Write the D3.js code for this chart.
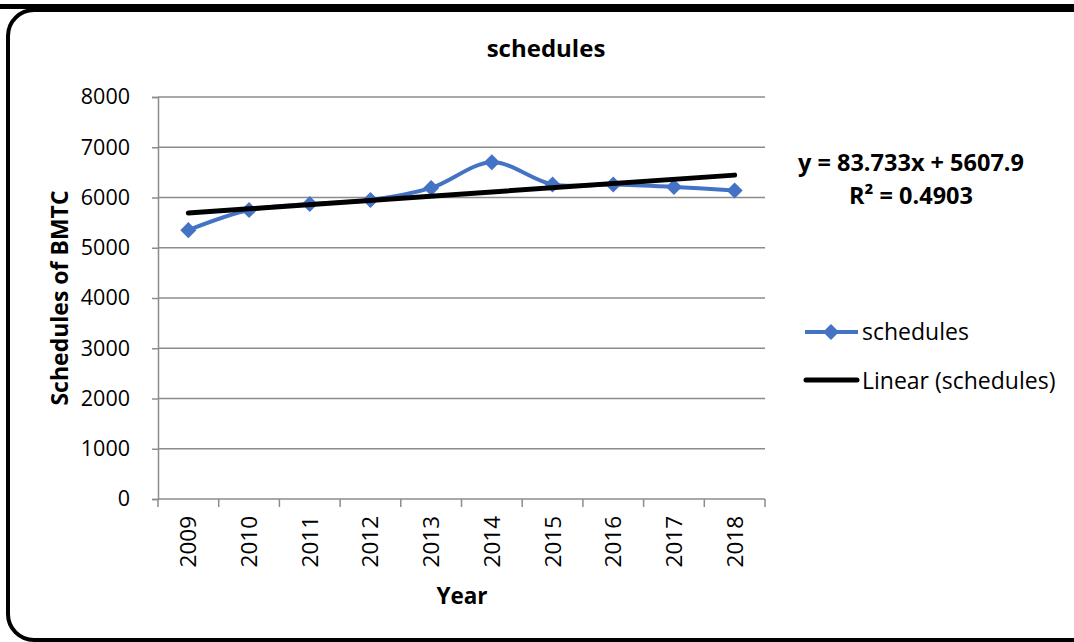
<!DOCTYPE html>
<html>
<head>
<meta charset="utf-8">
<script src="https://cdn.jsdelivr.net/npm/d3@7"></script>
<style>
  html, body { margin: 0; padding: 0; background: #fff; }
  svg { display: block; font-family: "Open Sans", sans-serif; }
</style>
</head>
<body>
<svg id="chart" width="1074" height="642"></svg>
<script>
// Yearly BMTC schedules
const years = ["2009", "2010", "2011", "2012", "2013", "2014", "2015", "2016", "2017", "2018"];
const schedules = [5350, 5750, 5870, 5950, 6190, 6700, 6260, 6260, 6210, 6140];
const yTicks = [0, 1000, 2000, 3000, 4000, 5000, 6000, 7000, 8000];
// Linear trend reported for the series (x = 1..10)
const trendSlope = 83.733;
const trendIntercept = 5607.9;
const trendR2 = 0.4903;

const svg = d3.select("#chart");
const W = 1074, H = 642;
const plot = { left: 158, right: 765, top: 97, bottom: 499 };

// frame
svg.append("rect").attr("x", 0).attr("y", 4).attr("width", W).attr("height", 5).attr("fill", "#000");
svg.append("rect")
  .attr("x", 8).attr("y", 10).attr("width", 1090).attr("height", 630)
  .attr("rx", 26).attr("ry", 26)
  .attr("fill", "#fff").attr("stroke", "#000").attr("stroke-width", 4);

const x = d3.scaleBand().domain(years).range([plot.left, plot.right]).paddingInner(0).paddingOuter(0);
const y = d3.scaleLinear().domain([0, 8000]).range([plot.bottom, plot.top]);
const cx = d => x(d) + x.bandwidth() / 2;

// gridlines
svg.append("g").selectAll("line").data(yTicks.filter(t => t > 0)).join("line")
  .attr("x1", plot.left).attr("x2", plot.right)
  .attr("y1", d => y(d)).attr("y2", d => y(d))
  .attr("stroke", "#8c8c8c").attr("stroke-width", 1.5);

// y axis
const yAxis = svg.append("g").attr("transform", `translate(${plot.left},0)`)
  .call(d3.axisLeft(y).tickValues(yTicks).tickSize(6).tickPadding(22).tickFormat(d3.format("d")));
yAxis.select(".domain").attr("stroke", "#8c8c8c").attr("stroke-width", 1.5);
yAxis.selectAll(".tick line").attr("stroke", "#8c8c8c").attr("stroke-width", 1.5);
yAxis.selectAll(".tick text").attr("font-size", 21.5).attr("fill", "#000")
  .attr("font-family", "'Open Sans', sans-serif");

// x axis: ticks at category boundaries
const xAxisG = svg.append("g").attr("transform", `translate(0,${plot.bottom})`);
xAxisG.append("line").attr("x1", plot.left).attr("x2", plot.right).attr("y1", 0).attr("y2", 0)
  .attr("stroke", "#8c8c8c").attr("stroke-width", 1.5);
const bounds = years.map(d => x(d)).concat([plot.right]);
xAxisG.selectAll("line.tk").data(bounds).join("line").attr("class", "tk")
  .attr("x1", d => d).attr("x2", d => d).attr("y1", 0).attr("y2", 8)
  .attr("stroke", "#8c8c8c").attr("stroke-width", 1.5);
xAxisG.selectAll("text").data(years).join("text")
  .attr("transform", d => `translate(${cx(d) + 8},${17}) rotate(-90)`)
  .attr("text-anchor", "end")
  .attr("font-size", 22.5).attr("fill", "#000")
  .text(d => d);

// series (smoothed)
const color = "#4472C4";
const line = d3.line().x((d, i) => cx(years[i])).y(d => y(d)).curve(d3.curveCatmullRom.alpha(0.5));
svg.append("path").datum(schedules).attr("d", line)
  .attr("fill", "none").attr("stroke", color).attr("stroke-width", 4);
const diamond = d3.symbol().type(d3.symbolDiamond2).size(165);
svg.append("g").selectAll("path").data(schedules).join("path")
  .attr("transform", (d, i) => `translate(${cx(years[i])},${y(d)})`)
  .attr("d", diamond).attr("fill", color);

// linear trend
const trend = years.map((d, i) => trendIntercept + trendSlope * (i + 1));
svg.append("line")
  .attr("x1", cx(years[0])).attr("y1", y(trend[0]))
  .attr("x2", cx(years[years.length - 1])).attr("y2", y(trend[trend.length - 1]))
  .attr("stroke", "#000").attr("stroke-width", 5).attr("stroke-linecap", "round");

// titles
svg.append("text").attr("x", 546).attr("y", 57).attr("text-anchor", "middle")
  .attr("font-size", 24).attr("font-weight", "bold").text("schedules");
svg.append("text").attr("transform", "translate(68,298) rotate(-90)").attr("text-anchor", "middle")
  .attr("font-size", 23).attr("font-weight", "bold").text("Schedules of BMTC");
svg.append("text").attr("x", 462).attr("y", 604).attr("text-anchor", "middle")
  .attr("font-size", 22.5).attr("font-weight", "bold").text("Year");

// equation
svg.append("text").attr("x", 911).attr("y", 171).attr("text-anchor", "middle")
  .attr("font-size", 23.5).attr("font-weight", "bold")
  .text(`y = ${trendSlope}x + ${trendIntercept}`);
svg.append("text").attr("x", 911).attr("y", 204).attr("text-anchor", "middle")
  .attr("font-size", 23.5).attr("font-weight", "bold")
  .text(`R² = ${trendR2}`);

// legend
const lg = svg.append("g");
lg.append("line").attr("x1", 805).attr("x2", 858).attr("y1", 332).attr("y2", 332)
  .attr("stroke", color).attr("stroke-width", 4);
lg.append("path").attr("transform", "translate(831,332)").attr("d", diamond).attr("fill", color);
lg.append("text").attr("x", 862).attr("y", 340).attr("font-size", 23).text("schedules");
lg.append("line").attr("x1", 806).attr("x2", 857).attr("y1", 380).attr("y2", 380)
  .attr("stroke", "#000").attr("stroke-width", 5).attr("stroke-linecap", "round");
lg.append("text").attr("x", 862).attr("y", 389).attr("font-size", 23).text("Linear (schedules)");
</script>
</body>
</html>
